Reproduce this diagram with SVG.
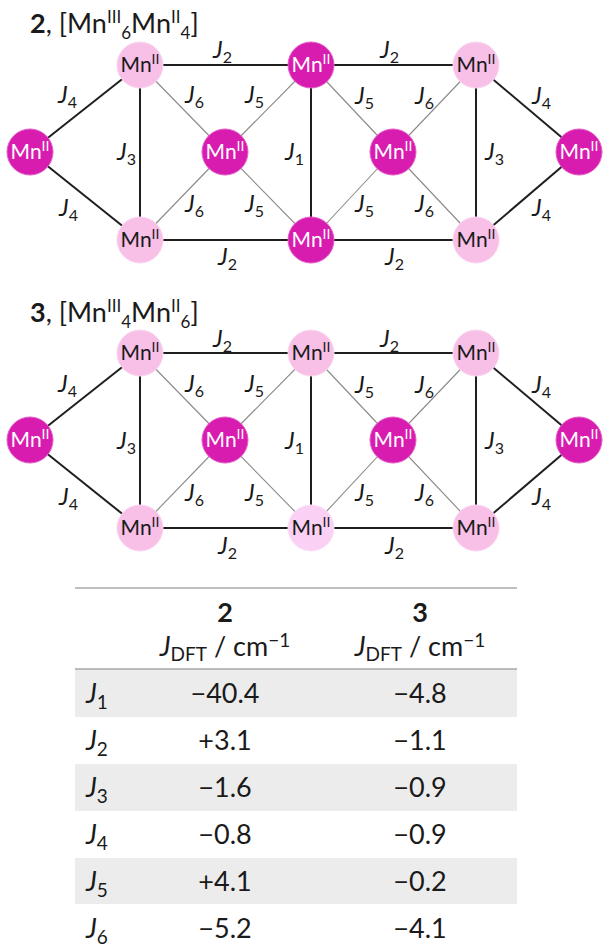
<svg xmlns="http://www.w3.org/2000/svg" width="604" height="949" viewBox="0 0 604 949">
<style>
text{font-family:Lato,"Open Sans",sans-serif;fill:#1a1a1a}
.k{stroke:#1f1f1f;stroke-width:2}
.g{stroke:#8a8a8a;stroke-width:1.1}
.mag{fill:#d81caf;stroke:#e45cc8;stroke-width:1}
.pk{fill:#f8bfe7;stroke:#fbd6f0;stroke-width:1}
.lp{fill:#fad0f4;stroke:#fde0f8;stroke-width:1}
.nt{font-size:21px;text-anchor:middle}
.w{fill:#ffffff}
.lab{font-size:24px}
.lab .j{font-style:italic}
.sb{font-size:16px}
.ttl{font-size:27px}
.tb{font-size:27px}
.c{text-anchor:middle}
</style>
<rect width="604" height="949" fill="#ffffff"/>

<!-- titles -->
<text class="ttl" x="30" y="33"><tspan font-weight="bold">2</tspan>, [Mn<tspan font-size="17" dy="-10">III</tspan><tspan font-size="17" dy="16">6</tspan><tspan dy="-6">Mn</tspan><tspan font-size="17" dy="-10">II</tspan><tspan font-size="17" dy="16">4</tspan><tspan dy="-6">]</tspan></text>
<text class="ttl" x="30" y="322"><tspan font-weight="bold">3</tspan>, [Mn<tspan font-size="17" dy="-10">III</tspan><tspan font-size="17" dy="16">4</tspan><tspan dy="-6">Mn</tspan><tspan font-size="17" dy="-10">II</tspan><tspan font-size="17" dy="16">6</tspan><tspan dy="-6">]</tspan></text>

<g id="connectors">
<!-- graph 2 -->
<g>
<line class="k" x1="30" y1="152" x2="140" y2="65"/>
<line class="k" x1="30" y1="152" x2="140" y2="240"/>
<line class="k" x1="140" y1="65" x2="140" y2="240"/>
<line class="k" x1="140" y1="65" x2="311" y2="65"/>
<line class="k" x1="140" y1="240" x2="311" y2="240"/>
<line class="g" x1="140" y1="65" x2="225" y2="152"/>
<line class="g" x1="140" y1="240" x2="225" y2="152"/>
<line class="g" x1="225" y1="152" x2="311" y2="65"/>
<line class="g" x1="225" y1="152" x2="311" y2="240"/>
<line class="k" x1="311" y1="65" x2="311" y2="240"/>
<line class="g" x1="311" y1="65" x2="393" y2="152"/>
<line class="g" x1="311" y1="240" x2="393" y2="152"/>
<line class="g" x1="393" y1="152" x2="476" y2="65"/>
<line class="g" x1="393" y1="152" x2="476" y2="240"/>
<line class="k" x1="311" y1="65" x2="476" y2="65"/>
<line class="k" x1="311" y1="240" x2="476" y2="240"/>
<line class="k" x1="476" y1="65" x2="476" y2="240"/>
<line class="k" x1="476" y1="65" x2="579" y2="152"/>
<line class="k" x1="476" y1="240" x2="579" y2="152"/>
</g>
<!-- graph 3 -->
<g transform="translate(0,288)">
<line class="k" x1="30" y1="152" x2="140" y2="65"/>
<line class="k" x1="30" y1="152" x2="140" y2="240"/>
<line class="k" x1="140" y1="65" x2="140" y2="240"/>
<line class="k" x1="140" y1="65" x2="311" y2="65"/>
<line class="k" x1="140" y1="240" x2="311" y2="240"/>
<line class="g" x1="140" y1="65" x2="225" y2="152"/>
<line class="g" x1="140" y1="240" x2="225" y2="152"/>
<line class="g" x1="225" y1="152" x2="311" y2="65"/>
<line class="g" x1="225" y1="152" x2="311" y2="240"/>
<line class="k" x1="311" y1="65" x2="311" y2="240"/>
<line class="g" x1="311" y1="65" x2="393" y2="152"/>
<line class="g" x1="311" y1="240" x2="393" y2="152"/>
<line class="g" x1="393" y1="152" x2="476" y2="65"/>
<line class="g" x1="393" y1="152" x2="476" y2="240"/>
<line class="k" x1="311" y1="65" x2="476" y2="65"/>
<line class="k" x1="311" y1="240" x2="476" y2="240"/>
<line class="k" x1="476" y1="65" x2="476" y2="240"/>
<line class="k" x1="476" y1="65" x2="579" y2="152"/>
<line class="k" x1="476" y1="240" x2="579" y2="152"/>
</g>
</g>

<!-- edge labels graph 2 -->
<g id="labels2" class="lab">
<text x="213" y="58"><tspan class="j">J</tspan><tspan class="sb" dy="5">2</tspan></text>
<text x="380" y="58"><tspan class="j">J</tspan><tspan class="sb" dy="5">2</tspan></text>
<text x="58" y="103"><tspan class="j">J</tspan><tspan class="sb" dy="5">4</tspan></text>
<text x="185" y="103"><tspan class="j">J</tspan><tspan class="sb" dy="5">6</tspan></text>
<text x="245" y="103"><tspan class="j">J</tspan><tspan class="sb" dy="5">5</tspan></text>
<text x="355" y="104"><tspan class="j">J</tspan><tspan class="sb" dy="5">5</tspan></text>
<text x="415" y="104"><tspan class="j">J</tspan><tspan class="sb" dy="5">6</tspan></text>
<text x="532" y="104"><tspan class="j">J</tspan><tspan class="sb" dy="5">4</tspan></text>
<text x="117" y="160"><tspan class="j">J</tspan><tspan class="sb" dy="5">3</tspan></text>
<text x="285" y="160"><tspan class="j">J</tspan><tspan class="sb" dy="5">1</tspan></text>
<text x="485" y="160"><tspan class="j">J</tspan><tspan class="sb" dy="5">3</tspan></text>
<text x="59" y="216"><tspan class="j">J</tspan><tspan class="sb" dy="5">4</tspan></text>
<text x="185" y="212"><tspan class="j">J</tspan><tspan class="sb" dy="5">6</tspan></text>
<text x="245" y="212"><tspan class="j">J</tspan><tspan class="sb" dy="5">5</tspan></text>
<text x="355" y="212"><tspan class="j">J</tspan><tspan class="sb" dy="5">5</tspan></text>
<text x="415" y="212"><tspan class="j">J</tspan><tspan class="sb" dy="5">6</tspan></text>
<text x="532" y="216"><tspan class="j">J</tspan><tspan class="sb" dy="5">4</tspan></text>
<text x="218" y="265"><tspan class="j">J</tspan><tspan class="sb" dy="5">2</tspan></text>
<text x="385" y="265"><tspan class="j">J</tspan><tspan class="sb" dy="5">2</tspan></text>
</g>
<g id="labels3" class="lab" transform="translate(0,289)">
<text x="213" y="58"><tspan class="j">J</tspan><tspan class="sb" dy="5">2</tspan></text>
<text x="380" y="58"><tspan class="j">J</tspan><tspan class="sb" dy="5">2</tspan></text>
<text x="58" y="103"><tspan class="j">J</tspan><tspan class="sb" dy="5">4</tspan></text>
<text x="185" y="103"><tspan class="j">J</tspan><tspan class="sb" dy="5">6</tspan></text>
<text x="245" y="103"><tspan class="j">J</tspan><tspan class="sb" dy="5">5</tspan></text>
<text x="355" y="104"><tspan class="j">J</tspan><tspan class="sb" dy="5">5</tspan></text>
<text x="415" y="104"><tspan class="j">J</tspan><tspan class="sb" dy="5">6</tspan></text>
<text x="532" y="104"><tspan class="j">J</tspan><tspan class="sb" dy="5">4</tspan></text>
<text x="117" y="160"><tspan class="j">J</tspan><tspan class="sb" dy="5">3</tspan></text>
<text x="285" y="160"><tspan class="j">J</tspan><tspan class="sb" dy="5">1</tspan></text>
<text x="485" y="160"><tspan class="j">J</tspan><tspan class="sb" dy="5">3</tspan></text>
<text x="59" y="216"><tspan class="j">J</tspan><tspan class="sb" dy="5">4</tspan></text>
<text x="185" y="212"><tspan class="j">J</tspan><tspan class="sb" dy="5">6</tspan></text>
<text x="245" y="212"><tspan class="j">J</tspan><tspan class="sb" dy="5">5</tspan></text>
<text x="355" y="212"><tspan class="j">J</tspan><tspan class="sb" dy="5">5</tspan></text>
<text x="415" y="212"><tspan class="j">J</tspan><tspan class="sb" dy="5">6</tspan></text>
<text x="532" y="216"><tspan class="j">J</tspan><tspan class="sb" dy="5">4</tspan></text>
<text x="218" y="265"><tspan class="j">J</tspan><tspan class="sb" dy="5">2</tspan></text>
<text x="385" y="265"><tspan class="j">J</tspan><tspan class="sb" dy="5">2</tspan></text>
</g>

<!-- nodes graph 2 -->
<g id="n2-L"><circle class="mag" cx="30" cy="152" r="23"/><text class="nt w" x="30" y="159">Mn<tspan font-size="14" dy="-8">II</tspan></text></g>
<g id="n2-TL"><circle class="pk" cx="140" cy="65" r="23"/><text class="nt" x="140" y="72">Mn<tspan font-size="14" dy="-8">II</tspan></text></g>
<g id="n2-BL"><circle class="pk" cx="140" cy="240" r="23"/><text class="nt" x="140" y="247">Mn<tspan font-size="14" dy="-8">II</tspan></text></g>
<g id="n2-CL"><circle class="mag" cx="225" cy="152" r="23"/><text class="nt w" x="225" y="159">Mn<tspan font-size="14" dy="-8">II</tspan></text></g>
<g id="n2-TM"><circle class="mag" cx="311" cy="65" r="23"/><text class="nt w" x="311" y="72">Mn<tspan font-size="14" dy="-8">II</tspan></text></g>
<g id="n2-BM"><circle class="mag" cx="311" cy="240" r="23"/><text class="nt w" x="311" y="247">Mn<tspan font-size="14" dy="-8">II</tspan></text></g>
<g id="n2-CR"><circle class="mag" cx="393" cy="152" r="23"/><text class="nt w" x="393" y="159">Mn<tspan font-size="14" dy="-8">II</tspan></text></g>
<g id="n2-TR"><circle class="pk" cx="476" cy="65" r="23"/><text class="nt" x="476" y="72">Mn<tspan font-size="14" dy="-8">II</tspan></text></g>
<g id="n2-BR"><circle class="pk" cx="476" cy="240" r="23"/><text class="nt" x="476" y="247">Mn<tspan font-size="14" dy="-8">II</tspan></text></g>
<g id="n2-R"><circle class="mag" cx="579" cy="152" r="23"/><text class="nt w" x="579" y="159">Mn<tspan font-size="14" dy="-8">II</tspan></text></g>

<!-- nodes graph 3 -->
<g id="n3-L"><circle class="mag" cx="30" cy="440" r="23"/><text class="nt w" x="30" y="447">Mn<tspan font-size="14" dy="-8">II</tspan></text></g>
<g id="n3-TL"><circle class="pk" cx="140" cy="353" r="23"/><text class="nt" x="140" y="360">Mn<tspan font-size="14" dy="-8">II</tspan></text></g>
<g id="n3-BL"><circle class="pk" cx="140" cy="528" r="23"/><text class="nt" x="140" y="535">Mn<tspan font-size="14" dy="-8">II</tspan></text></g>
<g id="n3-CL"><circle class="mag" cx="225" cy="440" r="23"/><text class="nt w" x="225" y="447">Mn<tspan font-size="14" dy="-8">II</tspan></text></g>
<g id="n3-TM"><circle class="pk" cx="311" cy="353" r="23"/><text class="nt" x="311" y="360">Mn<tspan font-size="14" dy="-8">II</tspan></text></g>
<g id="n3-BM"><circle class="lp" cx="311" cy="528" r="23"/><text class="nt" x="311" y="535">Mn<tspan font-size="14" dy="-8">II</tspan></text></g>
<g id="n3-CR"><circle class="mag" cx="393" cy="440" r="23"/><text class="nt w" x="393" y="447">Mn<tspan font-size="14" dy="-8">II</tspan></text></g>
<g id="n3-TR"><circle class="pk" cx="476" cy="353" r="23"/><text class="nt" x="476" y="360">Mn<tspan font-size="14" dy="-8">II</tspan></text></g>
<g id="n3-BR"><circle class="pk" cx="476" cy="528" r="23"/><text class="nt" x="476" y="535">Mn<tspan font-size="14" dy="-8">II</tspan></text></g>
<g id="n3-R"><circle class="mag" cx="579" cy="440" r="23"/><text class="nt w" x="579" y="447">Mn<tspan font-size="14" dy="-8">II</tspan></text></g>

<!-- table -->
<g id="table">
<rect x="75" y="669" width="442" height="48" fill="#ececec"/>
<rect x="75" y="764" width="442" height="47" fill="#ececec"/>
<rect x="75" y="858" width="442" height="46" fill="#ececec"/>
<line x1="75" y1="588" x2="517" y2="588" stroke="#a8a8a8" stroke-width="1.5"/>
<line x1="75" y1="669" x2="517" y2="669" stroke="#a8a8a8" stroke-width="1.5"/>
<g class="tb">
<text class="c" x="225" y="622" font-weight="bold">2</text>
<text class="c" x="420" y="622" font-weight="bold">3</text>
<text class="c" x="225" y="656"><tspan font-style="italic">J</tspan><tspan font-size="19" dy="5">DFT</tspan><tspan dy="-5"> / cm</tspan><tspan font-size="19" dy="-9">−1</tspan></text>
<text class="c" x="420" y="656"><tspan font-style="italic">J</tspan><tspan font-size="19" dy="5">DFT</tspan><tspan dy="-5"> / cm</tspan><tspan font-size="19" dy="-9">−1</tspan></text>

<text x="86" y="703"><tspan font-style="italic">J</tspan><tspan font-size="19" dy="6">1</tspan></text>
<text x="86" y="750"><tspan font-style="italic">J</tspan><tspan font-size="19" dy="6">2</tspan></text>
<text x="86" y="797"><tspan font-style="italic">J</tspan><tspan font-size="19" dy="6">3</tspan></text>
<text x="86" y="844"><tspan font-style="italic">J</tspan><tspan font-size="19" dy="6">4</tspan></text>
<text x="86" y="891"><tspan font-style="italic">J</tspan><tspan font-size="19" dy="6">5</tspan></text>
<text x="86" y="938"><tspan font-style="italic">J</tspan><tspan font-size="19" dy="6">6</tspan></text>

<text class="c" x="225" y="703">−40.4</text>
<text class="c" x="225" y="750">+3.1</text>
<text class="c" x="225" y="797">−1.6</text>
<text class="c" x="225" y="844">−0.8</text>
<text class="c" x="225" y="891">+4.1</text>
<text class="c" x="225" y="938">−5.2</text>

<text class="c" x="420" y="703">−4.8</text>
<text class="c" x="420" y="750">−1.1</text>
<text class="c" x="420" y="797">−0.9</text>
<text class="c" x="420" y="844">−0.9</text>
<text class="c" x="420" y="891">−0.2</text>
<text class="c" x="420" y="938">−4.1</text>
</g>
</g>
</svg>
